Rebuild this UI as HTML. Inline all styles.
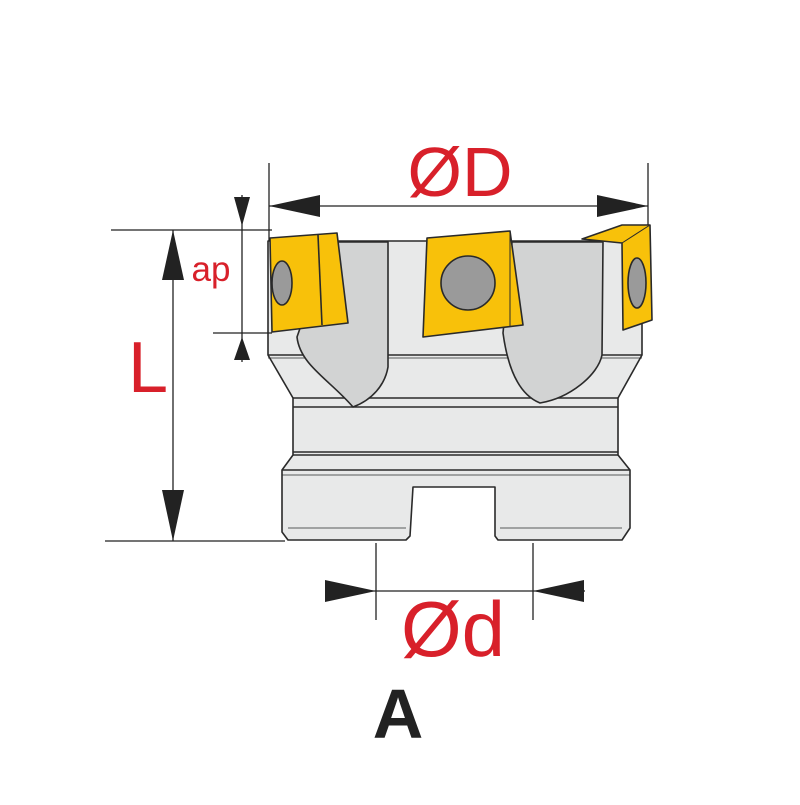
<!DOCTYPE html>
<html><head><style>html,body{margin:0;padding:0;background:#fff}</style></head>
<body>
<svg width="800" height="800" viewBox="0 0 800 800" xmlns="http://www.w3.org/2000/svg" font-family="Liberation Sans, sans-serif">
<rect width="800" height="800" fill="#fff"/>
<g stroke="#2a2a2a" stroke-width="1.6" stroke-linejoin="round">
<path d="M268,241 L642,241 L642,355 L618,398 L618,455 L630,470 L630,528 L622,540 L498,540 L495,536 L495,487 L413,487 L410,536 L406,540 L288,540 L282,532 L282,470 L293,455 L293,398 L268,355 Z" fill="#e8e9e9"/>
<line x1="268" y1="355" x2="642" y2="355"/>
<line x1="268" y1="358" x2="642" y2="358" stroke-width="0.8"/>
<line x1="293" y1="398" x2="618" y2="398"/>
<line x1="293" y1="407" x2="618" y2="407"/>
<line x1="293" y1="452" x2="618" y2="452"/>
<line x1="293" y1="455" x2="618" y2="455"/>
<line x1="282" y1="470" x2="630" y2="470"/>
<line x1="282" y1="475" x2="630" y2="475" stroke-width="0.8"/>
<line x1="288" y1="528" x2="406" y2="528" stroke-width="0.8"/>
<line x1="500" y1="528" x2="622" y2="528" stroke-width="0.8"/>
<path d="M297,337 C300,365 330,380 353,407 C372,400 385,385 388,367 L388,242 L330,242 Z" fill="#d2d3d3"/>
<path d="M503,333 C508,370 520,395 540,403 C570,398 598,375 602,355 L603,242 L512,242 Z" fill="#d2d3d3"/>
<path d="M270,238 L337,233 L348,323 L272,332 Z" fill="#f8c10a"/>
<path d="M318,235 L322,325" fill="none"/>
<ellipse cx="282" cy="283" rx="10" ry="22" fill="#9a9a9a"/>
<path d="M427,238 L510,231 L523,325 L423,337 Z" fill="#f8c10a"/>
<path d="M510,231 L510,327" fill="none" stroke-width="1"/>
<circle cx="468" cy="283" r="27" fill="#9a9a9a"/>
<path d="M582,239 L622,225 L650,225 L652,320 L623,330 L622,243 Z" fill="#f8c10a"/>
<path d="M622,243 L650,225" fill="none" stroke-width="1"/>
<ellipse cx="637" cy="283" rx="9" ry="25" fill="#9a9a9a"/>
</g>
<g stroke="#222" stroke-width="1.3" fill="none">
<line x1="269" y1="163" x2="269" y2="241"/>
<line x1="648" y1="163" x2="648" y2="225"/>
<line x1="269" y1="206" x2="648" y2="206"/>
<line x1="111" y1="230" x2="272" y2="230"/>
<line x1="105" y1="541" x2="285" y2="541"/>
<line x1="173" y1="230" x2="173" y2="541"/>
<line x1="242" y1="195" x2="242" y2="362"/>
<line x1="213" y1="333" x2="272" y2="333"/>
<line x1="376" y1="543" x2="376" y2="620"/>
<line x1="533" y1="543" x2="533" y2="620"/>
<line x1="325" y1="591" x2="585" y2="591"/>
</g>
<g fill="#222">
<polygon points="269,206 320,195 320,217"/>
<polygon points="648,206 597,195 597,217"/>
<polygon points="173,230 162,280 184,280"/>
<polygon points="173,541 162,490 184,490"/>
<polygon points="242,226 234,197 250,197"/>
<polygon points="242,337 234,360 250,360"/>
<polygon points="376,591 325,580 325,602"/>
<polygon points="533,591 584,580 584,602"/>
</g>
<g fill="#d8202a">
<text x="460" y="196" font-size="70" text-anchor="middle">ØD</text>
<text x="148" y="392" font-size="72" text-anchor="middle">L</text>
<text x="211" y="281" font-size="35" text-anchor="middle">ap</text>
<text x="453" y="656" font-size="78" text-anchor="middle">Ød</text>
</g>
<text x="398" y="738" font-size="70" font-weight="bold" text-anchor="middle" fill="#222">A</text>
</svg>
</body></html>
